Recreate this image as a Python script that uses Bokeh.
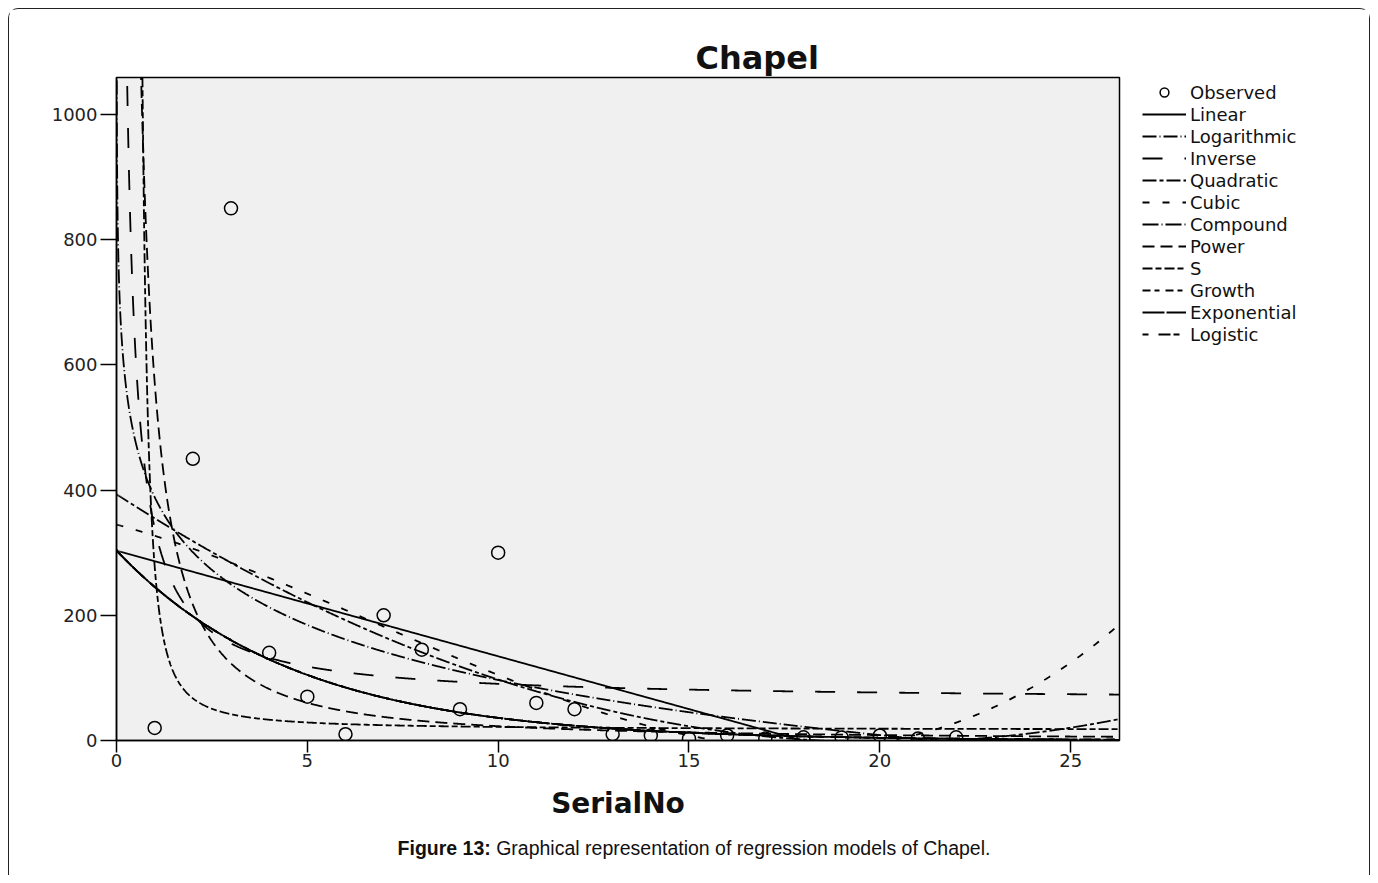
import numpy as np
from bokeh.plotting import figure
from bokeh.layouts import column, row
from bokeh.models import Range1d, FixedTicker, Legend, LegendItem, Div
from bokeh.embed import file_html
from bokeh.resources import INLINE

# ---- data ----
serial_no = [1, 2, 3, 4, 5, 6, 7, 8, 9, 10, 11, 12, 13, 14, 15, 16, 17, 18, 19, 20, 21, 22]
observed = [20, 450, 850, 140, 70, 10, 200, 145, 50, 300, 60, 50, 10, 8, 3, 8, 3, 5, 5, 8, 3, 5]
x_ticks = [0, 5, 10, 15, 20, 25]
y_ticks = [0, 200, 400, 600, 800, 1000]
model_names = ["Linear", "Logarithmic", "Inverse", "Quadratic", "Cubic", "Compound",
               "Power", "S", "Growth", "Exponential", "Logistic"]
model_dashes = ["solid", "14 3 1 3", "20 22", "14 3 4 3", "7 13", "16 3 1 3",
                "12 6", "10 3 6 3", "8 4 5 6", "22 2", "6 10 12 3"]

# ---- regression models (SPSS curve estimation) fitted to the observed data ----
t = np.array(serial_no, dtype=float)
y = np.array(observed, dtype=float)
ly = np.log(y)

grid = np.unique(np.concatenate([np.geomspace(1e-4, 1.5, 4000), np.linspace(1.5, 26.3, 2000)]))
LIM = 5000.0

def clipexp(e):
    return np.exp(np.clip(e, -50, np.log(LIM)))

b_lin = np.polyfit(t, y, 1)
b_log = np.polyfit(np.log(t), y, 1)
b_inv = np.polyfit(1.0 / t, y, 1)
b_quad = np.polyfit(t, y, 2)
b_cub = np.polyfit(t, y, 3)
b_cmp = np.polyfit(t, ly, 1)
b_pow = np.polyfit(np.log(t), ly, 1)
b_s = np.polyfit(1.0 / t, ly, 1)

curves = {
    "Linear": np.polyval(b_lin, grid),
    "Logarithmic": np.polyval(b_log, np.log(grid)),
    "Inverse": np.polyval(b_inv, 1.0 / grid),
    "Quadratic": np.polyval(b_quad, grid),
    "Cubic": np.polyval(b_cub, grid),
    "Compound": clipexp(np.polyval(b_cmp, grid)),
    "Power": clipexp(np.polyval(b_pow, np.log(grid))),
    "S": clipexp(np.polyval(b_s, 1.0 / grid)),
    "Growth": clipexp(np.polyval(b_cmp, grid)),
    "Exponential": clipexp(np.polyval(b_cmp, grid)),
    "Logistic": 1.0 / clipexp(-np.polyval(b_cmp, grid)),
}
for k in curves:
    curves[k] = np.clip(curves[k], -LIM, LIM)

LW = 1.8

# ---- main figure ----
p = figure(width=1112, height=821,
           x_range=Range1d(0, 26.28), y_range=Range1d(0, 1059),
           output_backend="svg", toolbar_location=None,
           min_border_left=107, min_border_right=2, min_border_top=68, min_border_bottom=90,
           background_fill_color="#f0f0f0", border_fill_color="white",
           outline_line_color="black", outline_line_width=1.5)
p.grid.visible = False

p.title.text = "Chapel"
p.title.align = "left"
p.title.offset = 579
p.title.standoff = 2
p.title.text_font = "DejaVu Sans"
p.title.text_font_style = "bold"
p.title.text_font_size = "32px"
p.title.text_color = "#111"

for ax in (p.xaxis[0], p.yaxis[0]):
    ax.major_tick_in = 0
    ax.minor_tick_in = 0
    ax.minor_tick_out = 0
    ax.axis_line_color = "black"
    ax.axis_line_width = 1.5
    ax.major_tick_line_color = "black"
    ax.major_tick_line_width = 1.5
    ax.major_label_text_font = "DejaVu Sans"
    ax.major_label_text_font_size = "18px"
    ax.major_label_text_color = "#222"

p.xaxis.ticker = FixedTicker(ticks=x_ticks)
p.yaxis.ticker = FixedTicker(ticks=y_ticks)
p.xaxis.major_tick_out = 12
p.yaxis.major_tick_out = 16
p.xaxis.major_label_standoff = 1
p.yaxis.major_label_standoff = 3
p.xaxis.axis_label = "SerialNo"
p.xaxis.axis_label_text_font = "DejaVu Sans"
p.xaxis.axis_label_text_font_style = "bold"
p.xaxis.axis_label_text_font_size = "28px"
p.xaxis.axis_label_text_color = "#111"
p.xaxis.axis_label_standoff = 17

p.scatter(t, y, marker="circle", size=13, fill_color=None, line_color="black", line_width=1.5)
for name, dash in zip(model_names, model_dashes):
    p.line(grid, curves[name], line_color="black", line_width=LW, line_dash=dash)

# ---- legend panel: same renderers drawn into a view that keeps them out of sight ----
lp = figure(width=248, height=821, x_range=Range1d(1000, 1001), y_range=Range1d(0, 1059),
            x_axis_type=None, y_axis_type=None, output_backend="svg", toolbar_location=None,
            min_border=0, outline_line_color=None, background_fill_color="white",
            border_fill_color="white")
lp.grid.visible = False
items = []
lr = lp.scatter(t, y, marker="circle", size=13, fill_color=None, line_color="black", line_width=1.5)
items.append(LegendItem(label="Observed", renderers=[lr]))
for name, dash in zip(model_names, model_dashes):
    lr = lp.line(grid, curves[name], line_color="black", line_width=LW, line_dash=dash)
    items.append(LegendItem(label=name, renderers=[lr]))

legend = Legend(items=items, location=(21, 395),
                glyph_width=44, glyph_height=22, label_height=22, spacing=0,
                label_standoff=4, padding=0, margin=0,
                border_line_alpha=0, background_fill_alpha=0,
                label_text_font="DejaVu Sans", label_text_font_size="18px",
                label_text_color="#111")
lp.add_layout(legend, "center")

caption = Div(text="<b>Figure 13:</b> Graphical representation of regression models of Chapel.",
              width=1360, height=45,
              styles={"text-align": "center", "font-family": "Liberation Sans",
                      "font-size": "19.5px", "color": "#111", "line-height": "26px"})

layout = column(row(p, lp, spacing=0), caption, spacing=0, margin=(8, 0, 0, 8),
                width=1362, height=867, sizing_mode="fixed",
                styles={"border-top": "1px solid #222", "border-left": "1px solid #222",
                        "border-right": "1px solid #222", "border-radius": "10px 10px 0 0",
                        "background-color": "white"})

open("out.html", "w").write(file_html(layout, INLINE))
